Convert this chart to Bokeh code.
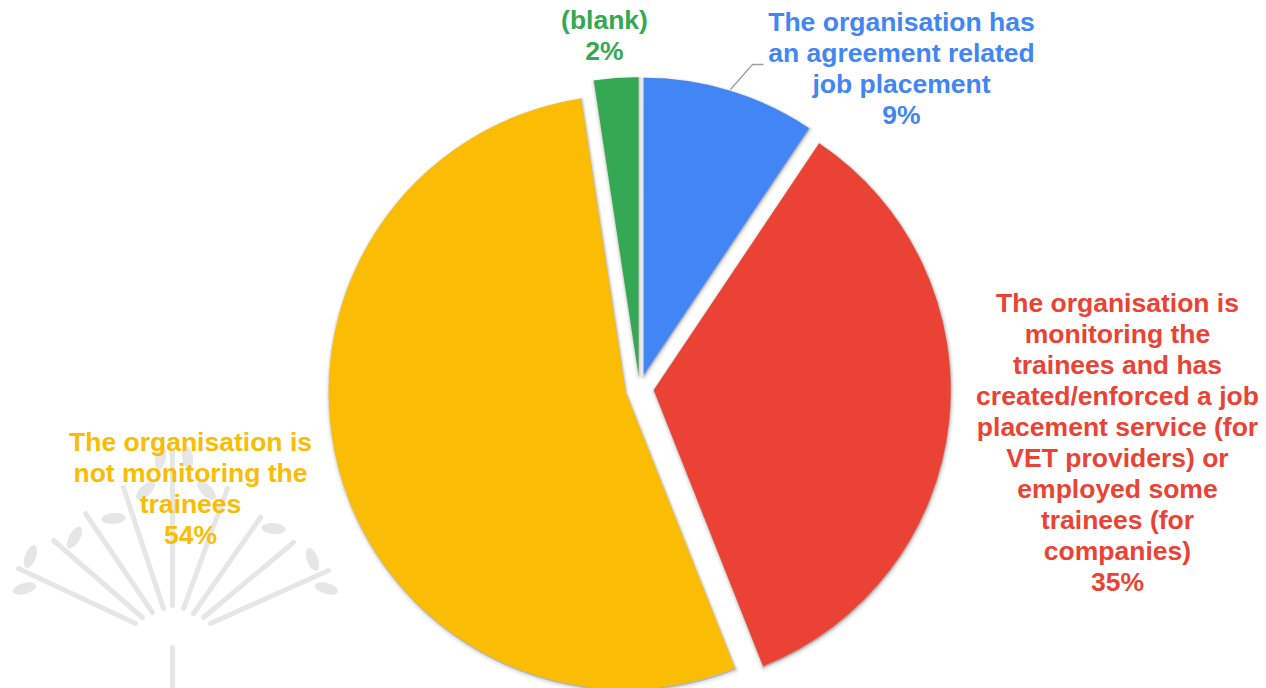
import math
from bokeh.plotting import figure
from bokeh.models import Range1d
from bokeh.embed import file_html
from bokeh.resources import INLINE
from bokeh.core.properties import value

# ---------------- data ----------------
categories = [
    "The organisation has an agreement related job placement",
    "The organisation is monitoring the trainees and has created/enforced a job placement service (for VET providers) or employed some trainees (for companies)",
    "The organisation is not monitoring the trainees",
    "(blank)",
]
label_lines = [
    ["The organisation has", "an agreement related", "job placement"],
    ["The organisation is", "monitoring the", "trainees and has", "created/enforced a job",
     "placement service (for", "VET providers) or", "employed some", "trainees (for", "companies)"],
    ["The organisation is", "not monitoring the", "trainees"],
    ["(blank)"],
]
shares = [9.4, 34.6, 53.6, 2.4]
colors = ["#4285F4", "#EA4335", "#FBBC04", "#34A853"]

# ---------------- layout ----------------
W, H = 1266, 688
CX, CY = 639, H - 388
R = 297
EXPLODE = 14.3
label_pos = [(901, H - 68), (1117, H - 442), (190, H - 488), (604, H - 35)]
FONT = value("Liberation Sans")

p = figure(width=W, height=H, x_range=Range1d(0, W), y_range=Range1d(0, H),
           output_backend="svg", toolbar_location=None, min_border=0,
           x_axis_type=None, y_axis_type=None)
p.grid.visible = False
p.outline_line_color = None
p.background_fill_color = "white"

# ---------------- watermark decoration ----------------
wm = "#e6e6e6"
rays = [((172, 450), (172, 605)), ((123, 487), (163, 608)), ((85, 513), (152, 612)),
        ((53, 540), (142, 617)), ((18, 568), (135, 623)), ((227, 488), (183, 608)),
        ((260, 517), (193, 613)), ((293, 542), (203, 617)), ((328, 570), (210, 623)),
        ((172, 647), (172, 690))]
p.multi_line(xs=[[a[0], b[0]] for a, b in rays], ys=[[H - a[1], H - b[1]] for a, b in rays],
             line_color=wm, line_width=5, line_cap="round")
leaves = [(30, 556, 70), (24, 588, 15), (74, 537, 60), (113, 518, 5), (145, 490, 45),
          (160, 457, 80), (187, 457, 100), (206, 490, 135), (273, 528, 175),
          (312, 559, 110), (326, 588, 165)]
p.ellipse(x=[l[0] for l in leaves], y=[H - l[1] for l in leaves], width=24, height=11,
          angle=[math.radians(l[2]) for l in leaves], fill_color=wm, line_color=None)

# ---------------- pie ----------------
total = sum(shares)
cum = 0.0
apex = []
angles = []
for s in shares:
    t0 = cum / total * 2 * math.pi
    t1 = (cum + s) / total * 2 * math.pi
    tm = (t0 + t1) / 2
    ax = CX + EXPLODE * math.sin(tm)
    ay = CY + EXPLODE * math.cos(tm)
    apex.append((ax, ay))
    angles.append((math.pi / 2 - t0, math.pi / 2 - t1))
    cum += s

# soft shadow
for lw, alpha, off in [(7, 0.04, 2.0), (4, 0.06, 1.5), (2, 0.08, 1.0)]:
    p.wedge(x=[a[0] + 0.5 for a in apex], y=[a[1] - off for a in apex], radius=R,
            start_angle=[a[0] for a in angles], end_angle=[a[1] for a in angles],
            direction="clock", fill_color="black", fill_alpha=alpha,
            line_color="black", line_alpha=alpha, line_width=lw, line_join="round")

p.wedge(x=[a[0] for a in apex], y=[a[1] for a in apex], radius=R,
        start_angle=[a[0] for a in angles], end_angle=[a[1] for a in angles],
        direction="clock", fill_color=colors, line_color=None)

# leader line for the blue slice label
p.line(x=[730, 752, 763], y=[H - 89, H - 64, H - 64], line_color="#9e9e9e", line_width=1.3)

# ---------------- labels ----------------
texts = ["\n".join(lines + [f"{round(s)}%"]) for lines, s in zip(label_lines, shares)]
p.text(x=[lp[0] for lp in label_pos], y=[lp[1] for lp in label_pos], text=texts,
       text_color=colors, text_font=FONT, text_font_style="bold", text_font_size="26.5px",
       text_align="center", text_baseline="middle", text_line_height=1.03)

open("out.html", "w").write(file_html(p, INLINE))
